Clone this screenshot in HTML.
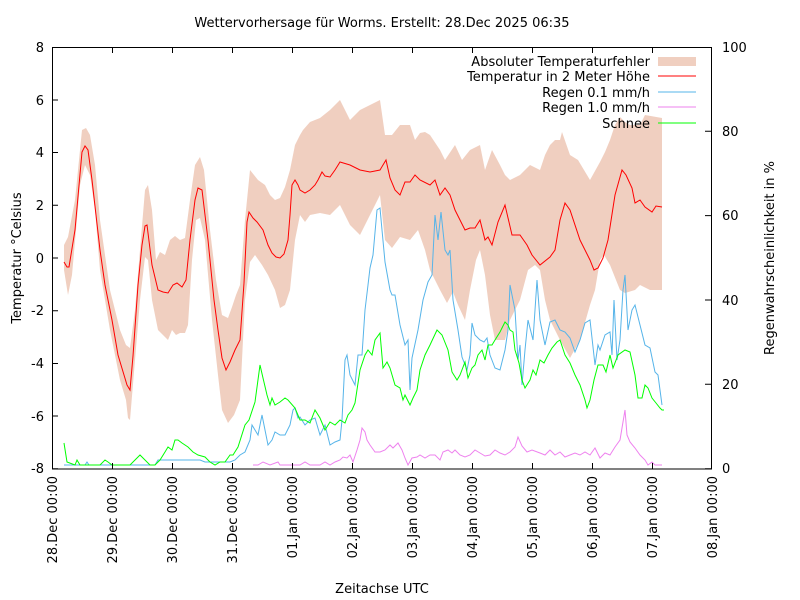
<!DOCTYPE html>
<html><head><meta charset="utf-8"><style>body{margin:0;background:#fff}svg{display:block}text{font-family:"DejaVu Sans","Liberation Sans",sans-serif;font-size:13px;fill:#000}</style></head><body>
<svg width="800" height="600" xmlns="http://www.w3.org/2000/svg">
<text x="382" y="27" text-anchor="middle">Wettervorhersage für Worms. Erstellt: 28.Dec 2025 06:35</text>
<polygon fill="#f0cfc0" points="64,245 68,237 75,200 82,130 86,128 90,135 95,165 100,220 110,290 120,330 126,345 130,348 135,310 140,250 145,190 148,185 152,210 156,260 160,252 165,255 170,240 175,236 180,240 185,238 190,200 195,165 200,157 204,170 210,230 216,280 222,315 228,318 232,307 236,295 240,285 245,220 250,170 258,180 265,185 270,195 275,200 280,198 285,187 290,170 295,145 300,135 303,130 310,122 320,118 330,110 340,100 350,120 360,110 370,105 380,100 385,135 392,135 400,125 410,125 415,140 420,133 425,132 430,135 440,150 445,160 455,145 462,160 470,150 480,145 485,170 492,150 500,165 505,175 510,180 520,175 530,165 540,170 545,155 550,145 555,140 560,140 562,132 570,155 578,160 590,180 600,162 605,152 610,140 615,125 620,117 625,122 630,125 640,125 645,115 662,118 662,290 650,290 640,285 635,290 625,293 620,290 610,265 604,255 600,260 595,290 590,305 580,340 570,358 560,340 550,320 545,300 540,270 535,265 528,270 520,300 510,320 505,340 495,340 490,315 485,275 480,250 476,260 470,290 465,320 458,305 453,292 447,303 440,290 430,270 425,250 418,230 410,240 400,237 392,248 385,240 380,195 370,215 360,235 350,225 340,205 330,215 320,213 310,215 305,222 300,215 295,240 290,290 285,305 280,308 275,290 268,275 262,265 255,255 250,262 245,300 240,400 234,415 228,423 222,410 218,375 212,320 205,240 200,218 196,220 192,260 188,325 185,333 180,333 176,335 172,330 168,340 163,335 158,330 152,300 148,260 145,257 140,300 135,360 130,420 128,418 126,400 120,380 110,330 100,270 95,210 90,175 85,165 80,185 72,275 68,295 64,270"/>
<g fill="none" stroke-width="1">
<polyline stroke="#56b4e9" points="64,465 85,465 87,462 89,465 100,465 112,465 155,465 158,460 163,460 180,460 200,460 205,462 230,462 235,460 240,455 245,452 250,440 252,425 255,430 258,435 262,415 265,430 268,445 272,440 275,432 280,435 285,435 290,425 293,410 295,408 298,418 300,417 305,425 310,420 315,418 320,435 325,425 327,433 330,445 335,442 340,440 342,420 345,360 347,355 350,375 355,385 358,355 362,355 365,310 368,285 370,268 373,255 377,210 380,208 382,230 385,262 390,290 392,295 395,295 400,325 405,345 408,340 410,390 412,358 418,330 423,300 428,282 432,275 435,215 438,240 441,212 445,250 448,255 450,250 453,300 458,330 462,357 467,370 470,355 472,323 475,335 480,340 484,342 487,338 490,355 495,368 500,370 505,350 508,330 510,285 515,310 518,360 520,345 522,385 525,350 528,320 533,340 537,280 540,320 545,345 550,322 555,320 560,330 565,332 570,338 575,352 580,340 585,323 590,320 595,365 598,345 600,350 605,335 610,332 612,355 614,300 617,360 620,340 623,290 625,275 628,330 632,310 635,305 640,325 645,345 650,348 655,372 658,375 662,405"/>
<polyline stroke="#00ff00" points="64,443 67,462 75,465 77,460 80,465 100,465 105,460 108,462 112,465 130,465 133,462 140,455 145,460 150,465 155,465 160,460 165,452 168,447 172,450 175,440 178,440 182,443 188,447 193,452 198,455 205,457 210,462 215,465 220,462 225,462 230,455 233,455 238,447 245,425 249,420 255,402 260,365 263,378 267,395 270,405 272,398 275,405 280,402 285,398 288,400 295,408 300,420 305,420 310,423 315,410 320,418 325,430 330,422 335,425 340,420 345,423 348,415 352,410 355,403 360,370 365,355 368,350 372,355 375,340 380,333 383,368 387,362 390,368 395,385 400,388 403,400 405,395 410,405 413,398 417,390 420,370 425,355 430,345 437,330 442,335 448,350 452,372 457,380 460,375 465,362 468,378 472,368 475,365 478,355 482,350 485,360 488,345 492,345 495,340 500,332 505,322 508,325 510,330 513,332 515,350 519,363 522,380 525,388 530,380 533,370 536,375 540,360 544,363 548,355 552,348 557,342 560,340 565,355 570,363 575,375 580,385 585,400 587,408 590,400 594,380 598,365 603,365 606,372 610,355 613,368 618,355 625,350 630,352 635,375 638,398 642,398 645,385 648,388 652,398 656,403 660,408 662,410 664,410"/>
<polyline stroke="#ee82ee" points="253,465 258,465 263,462 270,465 278,462 280,465 290,465 300,465 305,462 310,465 320,465 325,462 330,465 335,462 340,460 343,457 347,458 350,455 353,462 357,450 360,440 362,428 365,432 367,440 370,445 375,452 380,452 385,450 390,445 393,448 398,443 402,450 405,458 408,465 412,458 417,457 420,455 425,458 430,455 435,455 440,460 443,452 448,450 452,453 455,450 460,455 465,457 470,455 475,450 480,453 485,456 490,455 495,450 500,453 505,455 510,452 515,447 518,437 522,446 527,452 532,450 540,453 545,455 550,450 555,455 560,452 565,457 570,455 575,453 580,455 585,452 590,455 595,448 600,458 605,453 610,455 615,447 620,440 625,410 627,435 630,442 635,448 640,455 645,460 648,465 652,462 655,465 662,465"/>
<polyline stroke="#ff0000" points="64,262 67,267 69,267 75,230 82,152 85,146 88,150 92,180 100,250 105,285 112,320 118,355 124,375 127,385 130,390 133,356 138,285 142,245 145,226 147,225 152,265 158,290 163,292 168,293 173,285 177,283 182,287 186,280 190,240 195,200 198,188 202,190 208,240 214,300 218,330 222,358 226,370 230,362 235,350 240,340 244,283 247,222 249,212 253,218 257,222 263,230 268,245 272,253 276,257 280,258 284,254 288,240 290,215 292,185 295,180 298,185 300,190 305,193 310,190 315,185 318,180 322,172 325,176 330,177 335,170 340,162 350,165 360,170 370,172 380,170 386,160 390,178 395,190 400,195 405,182 410,182 415,175 420,180 430,185 435,180 440,195 445,188 450,195 455,210 460,220 465,230 470,228 475,228 480,220 485,240 488,237 492,245 498,222 505,205 512,235 520,235 527,245 532,255 540,265 550,257 555,250 560,220 565,203 570,210 580,240 590,260 594,270 598,268 603,258 608,240 615,195 622,170 626,175 632,188 635,203 640,200 645,207 652,212 656,206 662,207"/>
</g>
<g text-anchor="end">
<text x="650" y="66">Absoluter Temperaturfehler</text>
<text x="650" y="81">Temperatur in 2 Meter Höhe</text>
<text x="650" y="97">Regen 0.1 mm/h</text>
<text x="650" y="112">Regen 1.0 mm/h</text>
<text x="650" y="128">Schnee</text>
</g>
<rect x="658" y="57" width="38" height="9" fill="#f0cfc0"/>
<line x1="658" y1="76" x2="696" y2="76" stroke="#ff0000"/>
<line x1="658" y1="92" x2="696" y2="92" stroke="#56b4e9"/>
<line x1="658" y1="107" x2="696" y2="107" stroke="#ee82ee"/>
<line x1="658" y1="123" x2="696" y2="123" stroke="#00ff00"/>
<rect x="52.5" y="47.5" width="659" height="421.5" fill="none" stroke="#000"/>
<g stroke="#000">
<path d="M52 468.7h6M52 416h6M52 363.5h6M52 310.8h6M52 258h6M52 205.3h6M52 152.5h6M52 100h6M711 468.7h-6M711 384.3h-6M711 300h-6M711 215.6h-6M711 131.3h-6"/>
<path d="M112.5 469v-6M172.5 469v-6M232.5 469v-6M292.5 469v-6M352.5 469v-6M412.5 469v-6M472.5 469v-6M532.5 469v-6M592.5 469v-6M652.5 469v-6M112.5 47v6M172.5 47v6M232.5 47v6M292.5 47v6M352.5 47v6M412.5 47v6M472.5 47v6M532.5 47v6M592.5 47v6M652.5 47v6"/>
</g>
<g text-anchor="end">
<text x="44" y="52">8</text><text x="44" y="105">6</text><text x="44" y="157">4</text><text x="44" y="210">2</text><text x="44" y="263">0</text><text x="44" y="315">-2</text><text x="44" y="368">-4</text><text x="44" y="421">-6</text><text x="44" y="473">-8</text>
</g>
<g>
<text x="722" y="52">100</text><text x="722" y="136">80</text><text x="722" y="220">60</text><text x="722" y="305">40</text><text x="722" y="389">20</text><text x="722" y="473">0</text>
</g>
<g text-anchor="end">
<text transform="translate(57,476) rotate(-90)">28.Dec 00:00</text>
<text transform="translate(117,476) rotate(-90)">29.Dec 00:00</text>
<text transform="translate(177,476) rotate(-90)">30.Dec 00:00</text>
<text transform="translate(237,476) rotate(-90)">31.Dec 00:00</text>
<text transform="translate(297,476) rotate(-90)">01.Jan 00:00</text>
<text transform="translate(357,476) rotate(-90)">02.Jan 00:00</text>
<text transform="translate(417,476) rotate(-90)">03.Jan 00:00</text>
<text transform="translate(477,476) rotate(-90)">04.Jan 00:00</text>
<text transform="translate(537,476) rotate(-90)">05.Jan 00:00</text>
<text transform="translate(597,476) rotate(-90)">06.Jan 00:00</text>
<text transform="translate(657,476) rotate(-90)">07.Jan 00:00</text>
<text transform="translate(717,476) rotate(-90)">08.Jan 00:00</text>
</g>
<text x="382" y="593" text-anchor="middle">Zeitachse UTC</text>
<text transform="translate(21,258) rotate(-90)" text-anchor="middle">Temperatur °Celsius</text>
<text transform="translate(774,258) rotate(-90)" text-anchor="middle">Regenwahrscheinlichkeit in %</text>
</svg>
</body></html>
